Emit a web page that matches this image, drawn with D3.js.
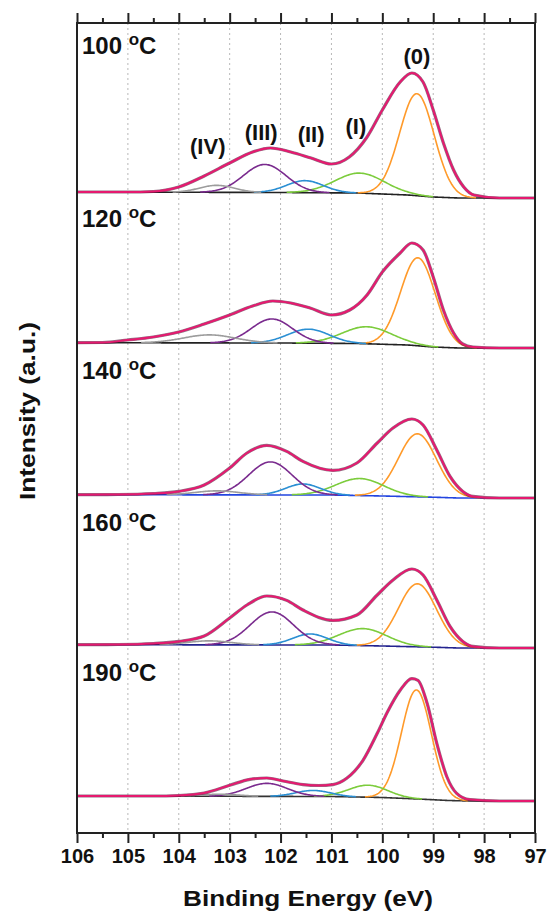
<!DOCTYPE html>
<html><head><meta charset="utf-8">
<script src="https://cdn.jsdelivr.net/npm/d3@7"></script>
<style>
html,body{margin:0;padding:0;background:#fff;}
svg{display:block;font-family:"Liberation Sans",Arial,sans-serif;}
</style></head>
<body>
<svg id="chart" width="548" height="912"></svg>
<script>
// ---------------- DATA ----------------
const panelLabels = ["100", "120", "140", "160", "190"];
const panelOffsets = [635, 485, 335, 185, 32];        // baseline (a.u.) of each stacked spectrum
const xTicks = [106, 105, 104, 103, 102, 101, 100, 99, 98, 97];
const peakNames = ["(0)", "(I)", "(II)", "(III)", "(IV)"];
const peakLabelEV = [99.32, 100.52, 101.4, 102.38, 103.43];
const peakLabelI = [769, 699, 691, 693, 679];

// envelope (fit sum / raw data) [BE, intensity above right-hand baseline]
const env100 = [[106,6],[105,6],[104.5,6.5],[104,11],[103.5,22],[103,35],[102.55,46],[102.2,50],[101.8,46],[101.4,40],[101,34],[100.65,41],[100.3,61],[100,88],[99.65,116],[99.42,125],[99.2,116],[99,88],[98.8,55],[98.6,28],[98.4,11],[98.2,3],[97.7,0],[97,0]];
const env120 = [[106,5.3],[105.5,5.5],[105,8],[104.5,11],[104,16],[103.5,24],[103,33],[102.55,42],[102.15,47],[101.8,45],[101.42,40],[101,33],[100.64,38],[100.3,53],[100,76],[99.65,95],[99.42,105],[99.2,98],[99,71],[98.8,38],[98.6,15],[98.42,4],[98.22,1],[97.7,0],[97,0]];
const env140 = [[106,3.3],[105.2,3.5],[104.5,4.5],[104,6.6],[103.5,13],[103,30],[102.66,45],[102.27,52.6],[101.88,46.6],[101.56,36.6],[100.97,27.6],[100.5,35],[100.1,55],[99.79,70],[99.42,79],[99.2,73],[98.93,48],[98.67,21.6],[98.42,6.6],[98.22,1.6],[97.7,0],[97,0]];
const env160 = [[106,3.3],[105.2,3.5],[104.5,4.5],[104,6.6],[103.5,12],[103,30],[102.66,43],[102.27,52],[101.88,47.6],[101.56,38],[100.97,27.6],[100.5,33],[100.1,53],[99.79,68],[99.42,79],[99.2,73],[98.93,48],[98.67,21.6],[98.42,6.6],[98.22,1.6],[97.7,0],[97,0]];
const env190 = [[106,5],[104.5,5],[104,5.5],[103.5,8],[103,15.7],[102.6,21.7],[102.27,23],[101.95,20],[101.56,16.4],[101.25,15.5],[100.97,16.4],[100.7,22.7],[100.38,40.7],[100.1,67.7],[99.9,89],[99.65,110.7],[99.42,122.4],[99.3,120.7],[99.12,97.7],[98.93,57.7],[98.73,24],[98.54,7.7],[98.28,1.4],[97.7,0],[97,0]];
const envelopes = [env100, env120, env140, env160, env190];

// Shirley-type background [BE, intensity]
const bg100 = [[106,6],[102,5.5],[100.5,5],[99.5,3],[99,1],[98.5,0],[97,0]];
const bg120 = [[106,5.3],[102,5],[100.5,4.5],[99.5,3],[99,1],[98.5,0],[97,0]];
const bg140 = [[106,3.3],[101,3],[100,2],[99,0.8],[98.5,0],[97,0]];
const bg160 = [[106,3.3],[101,3],[100,2],[99,0.8],[98.5,0],[97,0]];
const bg190 = [[106,5],[101,4.5],[100,3.5],[99.3,2],[98.7,0.5],[98.3,0],[97,0]];
const backgrounds = [bg100, bg120, bg140, bg160, bg190];

// fitted components: [centre BE, height, FWHM] for (0),(I),(II),(III),(IV)
const peaks100 = [[99.32,102,0.80],[100.44,20,1.15],[101.52,12,0.85],[102.31,28,0.98],[103.25,7,0.8]];
const peaks120 = [[99.30,88,0.80],[100.30,17,1.15],[101.45,14,0.95],[102.17,24,0.95],[103.40,8,1.2]];
const peaks140 = [[99.31,63,0.88],[100.44,17,1.10],[101.56,11,0.80],[102.20,33,1.00],[103.25,4,1.0]];
const peaks160 = [[99.31,63,0.88],[100.38,17,1.10],[101.42,11,0.80],[102.17,33,1.00],[103.40,4,1.0]];
const peaks190 = [[99.33,109,0.69],[100.28,12,0.90],[101.36,6,0.80],[102.27,13,0.95],[103.20,2,0.9]];
const components = [peaks100, peaks120, peaks140, peaks160, peaks190];

// ---------------- STYLE ----------------
const compColors = ["#ff9a2a", "#7ccc3c", "#2b8fd3", "#7a2b8e", "#9c9c9c"];
const bgColors = ["#222222", "#222222", "#2345e0", "#23238f", "#333333"];
const envColor = "#e6196f";
const rawColor = "#4a1232";
const labelY = [54, 227, 379, 531, 681];

// ---------------- CHART ----------------
const svg = d3.select("#chart");
const L = 77, R = 535, T = 23, B = 833;
const x = d3.scaleLinear().domain([106, 97]).range([L, R]);
const y = d3.scaleLinear().domain([0, 810]).range([B, T]);

// grid lines
svg.append("g").selectAll("line").data(xTicks.filter(d => d !== 106 && d !== 97)).join("line")
  .attr("x1", d => x(d)).attr("x2", d => x(d)).attr("y1", T).attr("y2", B)
  .attr("stroke", "#b8b8b8").attr("stroke-width", 1).attr("stroke-dasharray", "2,3");

function interp(pairs, e) {
  for (let i = 0; i < pairs.length - 1; i++) {
    const a = pairs[i], b = pairs[i + 1];
    if (e <= a[0] && e >= b[0]) {
      const t = (a[0] - e) / (a[0] - b[0]);
      return a[1] + t * (b[1] - a[1]);
    }
  }
  return pairs[pairs.length - 1][1];
}
const sampleE = d3.range(106, 96.999, -0.02);
const line = d3.line().x(d => x(d[0])).y(d => y(d[1]));
const smooth = d3.line().x(d => x(d[0])).y(d => y(d[1])).curve(d3.curveMonotoneX);

const plot = svg.append("g");
panelOffsets.forEach((off, p) => {
  const g = plot.append("g");
  const bg = backgrounds[p];
  g.append("path").datum(sampleE.map(e => [e, off + interp(bg, e)]))
    .attr("d", line).attr("fill", "none").attr("stroke", bgColors[p]).attr("stroke-width", 1.6);
  components[p].forEach((pk, k) => {
    const [c, h, w] = pk;
    const pts = sampleE.map(e => [e, h * Math.exp(-4 * Math.LN2 * ((e - c) / w) ** 2)])
      .filter(d => d[1] > 0.25)
      .map(d => [d[0], off + interp(bg, d[0]) + d[1]]);
    g.append("path").datum(pts).attr("d", line).attr("fill", "none")
      .attr("stroke", compColors[k]).attr("stroke-width", 1.6);
  });
  const env = envelopes[p].map(d => [d[0], off + d[1]]).reverse();
  g.append("path").datum(env).attr("d", smooth).attr("fill", "none")
    .attr("stroke", rawColor).attr("stroke-width", 3.2).attr("stroke-opacity", 0.6);
  g.append("path").datum(env).attr("d", smooth).attr("fill", "none")
    .attr("stroke", envColor).attr("stroke-width", 2);
  const t = svg.append("text").attr("x", 82).attr("y", labelY[p])
    .attr("font-size", 24).attr("font-weight", "bold").attr("fill", "#111");
  t.append("tspan").text(panelLabels[p] + " ");
  t.append("tspan").attr("font-size", 17).attr("dy", -9).text("o");
  t.append("tspan").attr("dy", 9).text("C");
});

// peak labels (top panel)
svg.append("g").selectAll("text").data(peakNames).join("text")
  .attr("x", (d, i) => x(peakLabelEV[i])).attr("y", (d, i) => y(peakLabelI[i]))
  .attr("text-anchor", "middle").attr("font-size", 22).attr("font-weight", "bold")
  .attr("fill", "#111").text(d => d);

// axes
const minor = d3.range(105.5, 97, -1);
const axB = svg.append("g").attr("transform", `translate(0,${B})`)
  .call(d3.axisBottom(x).tickValues(xTicks).tickFormat(d3.format("d")).tickSize(10).tickPadding(6));
axB.select(".domain").remove();
axB.selectAll("text").attr("font-size", 20).attr("font-weight", "bold").attr("fill", "#111")
  .attr("font-family", "Liberation Sans, Arial, sans-serif");
axB.selectAll("line").attr("stroke", "#222").attr("stroke-width", 2);
svg.append("g").attr("transform", `translate(0,${B})`)
  .call(d3.axisBottom(x).tickValues(minor).tickFormat("").tickSize(5))
  .call(s => s.select(".domain").remove()).selectAll("line").attr("stroke", "#222").attr("stroke-width", 2);
svg.append("g").attr("transform", `translate(0,${T})`)
  .call(d3.axisTop(x).tickValues(xTicks).tickFormat("").tickSize(10))
  .call(s => s.select(".domain").remove()).selectAll("line").attr("stroke", "#222").attr("stroke-width", 2);
svg.append("g").attr("transform", `translate(0,${T})`)
  .call(d3.axisTop(x).tickValues(minor).tickFormat("").tickSize(5))
  .call(s => s.select(".domain").remove()).selectAll("line").attr("stroke", "#222").attr("stroke-width", 2);

svg.append("rect").attr("x", L).attr("y", T).attr("width", R - L).attr("height", B - T)
  .attr("fill", "none").attr("stroke", "#222").attr("stroke-width", 2);

// axis titles
svg.append("text").attr("x", 308).attr("y", 906).attr("text-anchor", "middle")
  .attr("font-size", 22).attr("font-weight", "bold").attr("fill", "#111")
  .attr("textLength", 250).attr("lengthAdjust", "spacingAndGlyphs").text("Binding Energy (eV)");
svg.append("text").attr("transform", "translate(35,411) rotate(-90)").attr("text-anchor", "middle")
  .attr("font-size", 22).attr("font-weight", "bold").attr("fill", "#111")
  .attr("textLength", 178).attr("lengthAdjust", "spacingAndGlyphs").text("Intensity (a.u.)");
</script>
</body></html>
